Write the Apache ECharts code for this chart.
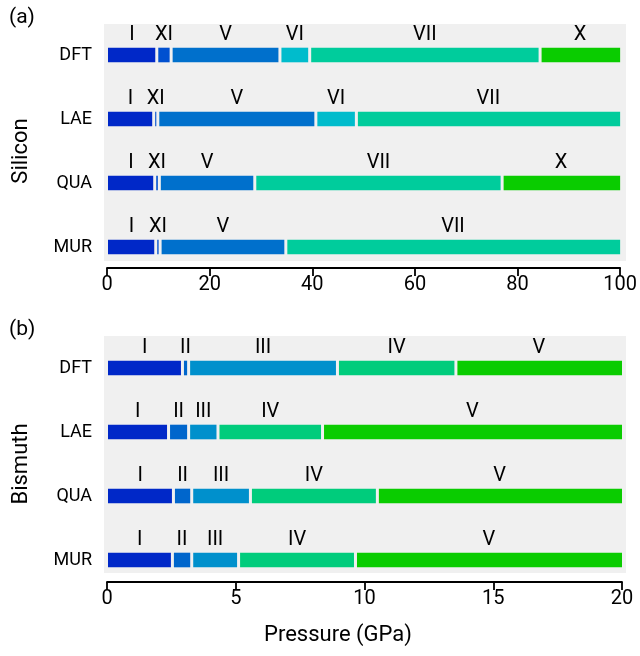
<!DOCTYPE html>
<html><head><meta charset="utf-8">
<script src="https://cdn.jsdelivr.net/npm/echarts@6/dist/echarts.min.js"></script>
<style>html,body{margin:0;padding:0;background:#fff}#c{width:640px;height:656px}</style>
</head><body><div id="c"></div>
<script>
const methods = ['DFT', 'LAE', 'QUA', 'MUR'];

// Silicon: phase sequences and transition pressures (GPa)
const siDFTPhases = ['I', 'XI', 'V', 'VI', 'VII', 'X'];
const siDFTBounds = [0, 9.7, 12.5, 33.7, 39.5, 84.4, 100];
const siLAEPhases = ['I', 'XI', 'V', 'VI', 'VII'];
const siLAEBounds = [0, 9.1, 9.9, 40.7, 48.6, 100];
const siQUAPhases = ['I', 'XI', 'V', 'VII', 'X'];
const siQUABounds = [0, 9.3, 10.2, 28.8, 77.0, 100];
const siMURPhases = ['I', 'XI', 'V', 'VII'];
const siMURBounds = [0, 9.5, 10.35, 34.85, 100];
const siTicks = [0, 20, 40, 60, 80, 100];

// Bismuth
const biDFTPhases = ['I', 'II', 'III', 'IV', 'V'];
const biDFTBounds = [0, 2.93, 3.17, 8.95, 13.55, 20];
const biLAEPhases = ['I', 'II', 'III', 'IV', 'V'];
const biLAEBounds = [0, 2.39, 3.17, 4.31, 8.37, 20];
const biQUAPhases = ['I', 'II', 'III', 'IV', 'V'];
const biQUABounds = [0, 2.58, 3.29, 5.57, 10.5, 20];
const biMURPhases = ['I', 'II', 'III', 'IV', 'V'];
const biMURBounds = [0, 2.54, 3.29, 5.11, 9.65, 20];
const biTicks = [0, 5, 10, 15, 20];

const siColors = { I: '#0028c8', XI: '#0050d0', V: '#0070cc', VI: '#00bccc', VII: '#00cc9c', X: '#0acc00' };
const biColors = { I: '#0028c8', II: '#0066cc', III: '#0090cc', IV: '#00cc7c', V: '#0acc00' };

function buildSegs(phaseLists, boundLists) {
  const segs = [];
  phaseLists.forEach((phases, m) => {
    const b = boundLists[m];
    phases.forEach((p, k) => segs.push({ row: m, start: b[k], end: b[k + 1], phase: p }));
  });
  return segs;
}
const siSegs = buildSegs([siDFTPhases, siLAEPhases, siQUAPhases, siMURPhases],
                         [siDFTBounds, siLAEBounds, siQUABounds, siMURBounds]);
const biSegs = buildSegs([biDFTPhases, biLAEPhases, biQUAPhases, biMURPhases],
                         [biDFTBounds, biLAEBounds, biQUABounds, biMURBounds]);

const FONT = 'Roboto';

function makeRender(segs, colors, xmax) {
  return function (params, api) {
    const s = segs[params.dataIndex];
    const p0 = api.coord([s.start, s.row]);
    const p1 = api.coord([s.end, s.row]);
    const h = 14.6;
    const x0 = p0[0] + (s.start <= 0 ? 1 : 1.5);
    const x1 = p1[0] - (s.end >= xmax ? 0 : 1.5);
    const cx = (p0[0] + p1[0]) / 2;
    return {
      type: 'group',
      children: [
        { type: 'rect', shape: { x: x0, y: p0[1] - h / 2, width: Math.max(x1 - x0, 0.8), height: h },
          style: { fill: colors[s.phase] } },
        { type: 'text', x: cx, y: p0[1] - 20,
          style: { text: s.phase, fill: '#000', font: '20px ' + FONT, textAlign: 'center', textVerticalAlign: 'middle' } }
      ]
    };
  };
}

function dataOf(segs) { return segs.map(s => [s.row, s.start, s.end]); }

const axisLineStyle = { color: '#000', width: 1.8 };

const chart = echarts.init(document.getElementById('c'), null, { renderer: 'canvas' });
chart.setOption({
  animation: false,
  backgroundColor: '#fff',
  textStyle: { fontFamily: FONT },
  grid: [
    { left: 104, top: 24, width: 522, height: 237, show: true, backgroundColor: '#f0f0f0', borderWidth: 0 },
    { left: 104, top: 336, width: 522, height: 237, show: true, backgroundColor: '#f0f0f0', borderWidth: 0 },
    { left: 107, top: 55, width: 515, height: 192 },
    { left: 107, top: 368, width: 515, height: 192 }
  ],
  xAxis: [
    { gridIndex: 0, type: 'value', show: false },
    { gridIndex: 1, type: 'value', show: false },
    { gridIndex: 2, type: 'value', min: siTicks[0], max: siTicks[siTicks.length - 1], interval: siTicks[1] - siTicks[0],
      offset: 21, axisLine: { show: true, lineStyle: axisLineStyle },
      axisTick: { show: true, length: 8, lineStyle: axisLineStyle },
      splitLine: { show: false },
      axisLabel: { color: '#000', fontSize: 20, fontFamily: FONT, margin: 7 } },
    { gridIndex: 3, type: 'value', min: biTicks[0], max: biTicks[biTicks.length - 1], interval: biTicks[1] - biTicks[0],
      offset: 22, axisLine: { show: true, lineStyle: axisLineStyle },
      axisTick: { show: true, length: 8, lineStyle: axisLineStyle },
      splitLine: { show: false },
      axisLabel: { color: '#000', fontSize: 20, fontFamily: FONT, margin: 7 } }
  ],
  yAxis: [
    { gridIndex: 0, type: 'value', show: false },
    { gridIndex: 1, type: 'value', show: false },
    { gridIndex: 2, type: 'category', data: methods, inverse: true, boundaryGap: false,
      axisLine: { show: false }, axisTick: { show: false }, splitLine: { show: false },
      axisLabel: { color: '#000', fontSize: 18, fontFamily: FONT, margin: 15 },
      name: 'Silicon', nameLocation: 'middle', nameGap: 75,
      nameTextStyle: { color: '#000', fontSize: 22, fontFamily: FONT } },
    { gridIndex: 3, type: 'category', data: methods, inverse: true, boundaryGap: false,
      axisLine: { show: false }, axisTick: { show: false }, splitLine: { show: false },
      axisLabel: { color: '#000', fontSize: 18, fontFamily: FONT, margin: 15 },
      name: 'Bismuth', nameLocation: 'middle', nameGap: 75,
      nameTextStyle: { color: '#000', fontSize: 22, fontFamily: FONT } }
  ],
  graphic: [
    { type: 'text', left: 9, top: 7, style: { text: '(a)', font: '21px ' + FONT, fill: '#000' } },
    { type: 'text', left: 9, top: 319, style: { text: '(b)', font: '21px ' + FONT, fill: '#000' } },
    { type: 'text', x: 338, y: 635, style: { text: 'Pressure (GPa)', font: '22px ' + FONT, fill: '#000', textAlign: 'center', textVerticalAlign: 'middle' } }
  ],
  series: [
    { type: 'custom', xAxisIndex: 2, yAxisIndex: 2, encode: { x: [1, 2], y: 0 },
      renderItem: makeRender(siSegs, siColors, siTicks[siTicks.length - 1]), data: dataOf(siSegs), clip: false },
    { type: 'custom', xAxisIndex: 3, yAxisIndex: 3, encode: { x: [1, 2], y: 0 },
      renderItem: makeRender(biSegs, biColors, biTicks[biTicks.length - 1]), data: dataOf(biSegs), clip: false }
  ]
});
</script></body></html>
